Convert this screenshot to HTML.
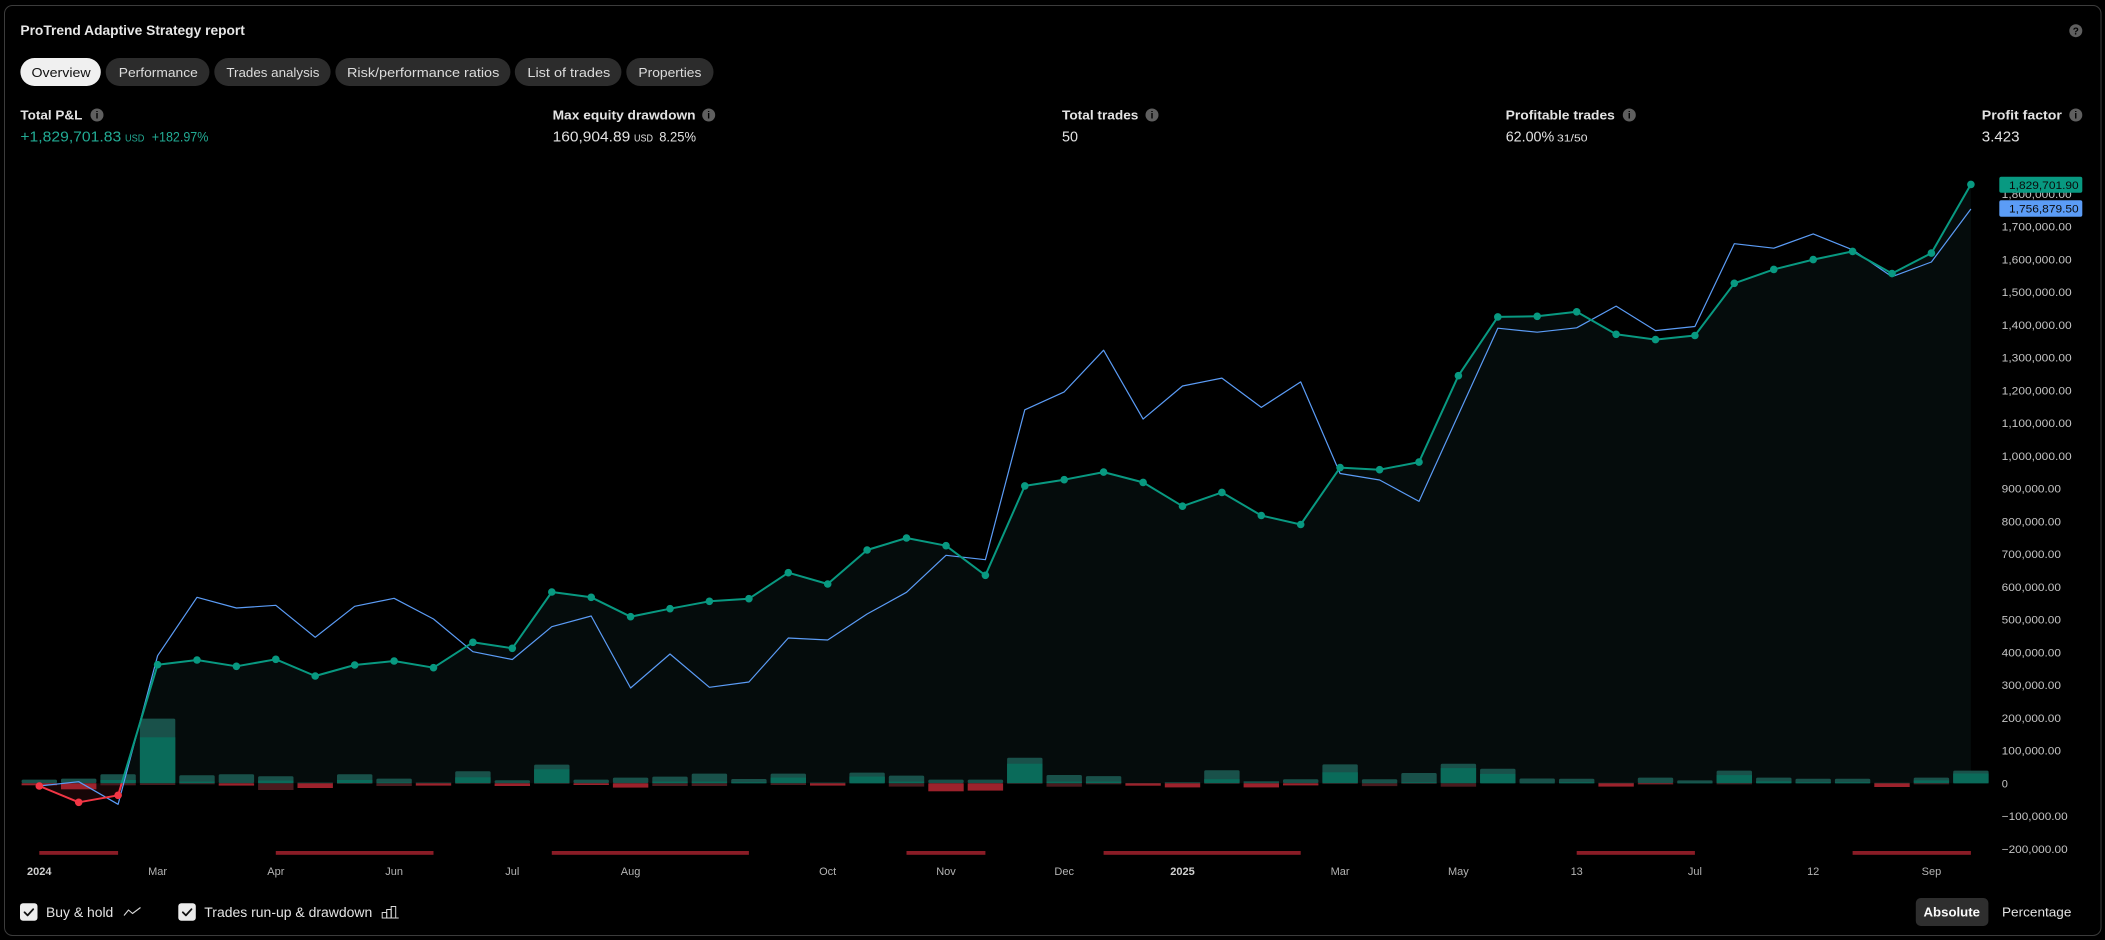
<!DOCTYPE html>
<html>
<head>
<meta charset="utf-8">
<style>
html,body{margin:0;padding:0;background:#000;}
body{width:2105px;height:940px;overflow:hidden;}
svg{display:block;font-family:"Liberation Sans",Arial,sans-serif;}
</style>
</head>
<body>
<svg width="2105" height="940" viewBox="0 0 2105 940" xmlns="http://www.w3.org/2000/svg">
<defs>
<clipPath id="above"><rect x="0" y="0" width="2105" height="783.3"/></clipPath>
<clipPath id="below"><rect x="0" y="783.3" width="2105" height="160"/></clipPath>
</defs>
<rect x="0" y="0" width="2105" height="940" fill="#000"/>
<rect x="4.5" y="5.5" width="2096.5" height="930" rx="8" fill="#000" stroke="#3c3c3c" stroke-width="1"/>

<!-- Title -->
<text x="20.4" y="35" font-size="13.5" font-weight="bold" fill="#e6e6e6" textLength="224.5" lengthAdjust="spacingAndGlyphs">ProTrend Adaptive Strategy report</text>
<!-- help icon -->
<circle cx="2075.8" cy="30.7" r="6.5" fill="#5f5f5f"/>
<text x="2075.8" y="34.3" font-size="10" font-weight="bold" fill="#000" text-anchor="middle">?</text>

<!-- Tabs -->
<rect x="20.4" y="58" width="80.4" height="28" rx="14" fill="#f0f0f0"/>
<rect x="105.7" y="58" width="103.7" height="28" rx="14" fill="#2c2c2c"/>
<rect x="214.3" y="58" width="116.3" height="28" rx="14" fill="#2c2c2c"/>
<rect x="335.4" y="58" width="175" height="28" rx="14" fill="#2c2c2c"/>
<rect x="514.8" y="58" width="106.6" height="28" rx="14" fill="#2c2c2c"/>
<rect x="626.3" y="58" width="87.2" height="28" rx="14" fill="#2c2c2c"/>
<g font-size="13" fill="#dcdcdc">
<text x="31.5" y="77" fill="#111" textLength="59.1" lengthAdjust="spacingAndGlyphs">Overview</text>
<text x="118.8" y="77" textLength="79" lengthAdjust="spacingAndGlyphs">Performance</text>
<text x="226.4" y="77" textLength="93" lengthAdjust="spacingAndGlyphs">Trades analysis</text>
<text x="347" y="77" textLength="152.3" lengthAdjust="spacingAndGlyphs">Risk/performance ratios</text>
<text x="527.4" y="77" textLength="82.9" lengthAdjust="spacingAndGlyphs">List of trades</text>
<text x="638.4" y="77" textLength="63" lengthAdjust="spacingAndGlyphs">Properties</text>
</g>

<!-- Stats labels -->
<g font-size="13" font-weight="bold" fill="#e2e2e2">
<text x="20.4" y="119.5" textLength="62" lengthAdjust="spacingAndGlyphs">Total P&amp;L</text>
<text x="552.6" y="119.5" textLength="143" lengthAdjust="spacingAndGlyphs">Max equity drawdown</text>
<text x="1062" y="119.5" textLength="76.4" lengthAdjust="spacingAndGlyphs">Total trades</text>
<text x="1505.7" y="119.5" textLength="109.2" lengthAdjust="spacingAndGlyphs">Profitable trades</text>
<text x="1981.8" y="119.5" textLength="80.1" lengthAdjust="spacingAndGlyphs">Profit factor</text>
</g>
<g fill="#5f5f5f">
<circle cx="97" cy="115" r="6.5"/>
<circle cx="708.7" cy="115" r="6.5"/>
<circle cx="1152" cy="115" r="6.5"/>
<circle cx="1629.3" cy="115" r="6.5"/>
<circle cx="2075.8" cy="115" r="6.5"/>
</g>
<g font-size="10" font-weight="bold" fill="#000" text-anchor="middle">
<text x="97" y="118.6">i</text>
<text x="708.7" y="118.6">i</text>
<text x="1152" y="118.6">i</text>
<text x="1629.3" y="118.6">i</text>
<text x="2075.8" y="118.6">i</text>
</g>

<!-- Stats values -->
<g fill="#22ab94">
<text x="20.4" y="141.7" font-size="14.5" textLength="100.8" lengthAdjust="spacingAndGlyphs">+1,829,701.83</text>
<text x="125" y="141.7" font-size="10" textLength="19.4" lengthAdjust="spacingAndGlyphs">USD</text>
<text x="151.7" y="141.7" font-size="13.5" textLength="56.7" lengthAdjust="spacingAndGlyphs">+182.97%</text>
</g>
<g fill="#e2e2e2">
<text x="552.6" y="141.7" font-size="14.5" textLength="77.6" lengthAdjust="spacingAndGlyphs">160,904.89</text>
<text x="634" y="141.7" font-size="10" textLength="19" lengthAdjust="spacingAndGlyphs">USD</text>
<text x="659.2" y="141.7" font-size="13.5" textLength="36.8" lengthAdjust="spacingAndGlyphs">8.25%</text>
<text x="1062" y="141.7" font-size="14.5" textLength="16" lengthAdjust="spacingAndGlyphs">50</text>
<text x="1505.7" y="141.7" font-size="14.5" textLength="48.5" lengthAdjust="spacingAndGlyphs">62.00%</text>
<text x="1557" y="141.7" font-size="10" textLength="30.5" lengthAdjust="spacingAndGlyphs">31/50</text>
<text x="1981.8" y="141.7" font-size="14.5" textLength="37.8" lengthAdjust="spacingAndGlyphs">3.423</text>
</g>

<!-- Equity fill -->
<polygon clip-path="url(#above)" fill="#050c0c" points="39.3,783.3 39.3,786 78.7,802.3 118.1,795.3 157.6,664.7 197,660 236.4,666.3 275.8,659.3 315.2,676 354.7,665 394.1,661 433.5,667.7 472.9,642.3 512.3,648.3 551.8,592 591.2,597.3 630.6,616.7 670,608.7 709.4,601.3 748.9,598.7 788.3,572.7 827.7,584 867.1,550 906.5,538 946,545.7 985.4,575.3 1024.8,485.9 1064.2,479.7 1103.6,472.1 1143.1,482.4 1182.5,506.2 1221.9,492.4 1261.3,515.5 1300.7,524.5 1340.1,467.6 1379.6,469.7 1419,462.1 1458.4,375.7 1497.8,316.9 1537.2,316.3 1576.7,311.8 1616.1,334.3 1655.5,339.6 1694.9,335.5 1734.3,283.3 1773.8,269.4 1813.2,259.6 1852.6,251.4 1892,273.5 1931.4,253.1 1970.9,184.4 1970.9,783.3"/>
<polygon clip-path="url(#below)" fill="#170607" points="39.3,783.3 39.3,786 78.7,802.3 118.1,795.3 157.6,664.7 157.6,783.3"/>

<!-- Bars -->
<g transform="translate(0,783.3)">
<g fill="#19514a">
<rect x="21.6" y="-3.7" width="35.4" height="3.7" rx="1.5"/>
<rect x="61.0" y="-4.7" width="35.4" height="4.7" rx="1.5"/>
<rect x="100.4" y="-9" width="35.4" height="9" rx="1.5"/>
<rect x="139.9" y="-64.7" width="35.4" height="64.7" rx="1.5"/>
<rect x="179.3" y="-8" width="35.4" height="8" rx="1.5"/>
<rect x="218.7" y="-9" width="35.4" height="9" rx="1.5"/>
<rect x="258.1" y="-7" width="35.4" height="7" rx="1.5"/>
<rect x="297.5" y="-0.7" width="35.4" height="0.7"/>
<rect x="337.0" y="-9" width="35.4" height="9" rx="1.5"/>
<rect x="376.4" y="-4.7" width="35.4" height="4.7" rx="1.5"/>
<rect x="415.8" y="-0.7" width="35.4" height="0.7"/>
<rect x="455.2" y="-12" width="35.4" height="12" rx="1.5"/>
<rect x="494.6" y="-3" width="35.4" height="3" rx="1.5"/>
<rect x="534.1" y="-18.7" width="35.4" height="18.7" rx="1.5"/>
<rect x="573.5" y="-3.7" width="35.4" height="3.7" rx="1.5"/>
<rect x="612.9" y="-5.7" width="35.4" height="5.7" rx="1.5"/>
<rect x="652.3" y="-6.7" width="35.4" height="6.7" rx="1.5"/>
<rect x="691.7" y="-9.7" width="35.4" height="9.7" rx="1.5"/>
<rect x="731.2" y="-4.3" width="35.4" height="4.3" rx="1.5"/>
<rect x="770.6" y="-9.7" width="35.4" height="9.7" rx="1.5"/>
<rect x="810.0" y="-0.7" width="35.4" height="0.7"/>
<rect x="849.4" y="-10.7" width="35.4" height="10.7" rx="1.5"/>
<rect x="888.8" y="-7.7" width="35.4" height="7.7" rx="1.5"/>
<rect x="928.3" y="-3.7" width="35.4" height="3.7" rx="1.5"/>
<rect x="967.7" y="-3.7" width="35.4" height="3.7" rx="1.5"/>
<rect x="1007.1" y="-25.5" width="35.4" height="25.5" rx="1.5"/>
<rect x="1046.5" y="-8.3" width="35.4" height="8.3" rx="1.5"/>
<rect x="1085.9" y="-7.2" width="35.4" height="7.2" rx="1.5"/>
<rect x="1125.4" y="-0.3" width="35.4" height="0.3"/>
<rect x="1164.8" y="-1" width="35.4" height="1"/>
<rect x="1204.2" y="-13.1" width="35.4" height="13.1" rx="1.5"/>
<rect x="1243.6" y="-2" width="35.4" height="2"/>
<rect x="1283.0" y="-4.1" width="35.4" height="4.1" rx="1.5"/>
<rect x="1322.4" y="-18.9" width="35.4" height="18.9" rx="1.5"/>
<rect x="1361.9" y="-4.1" width="35.4" height="4.1" rx="1.5"/>
<rect x="1401.3" y="-10.3" width="35.4" height="10.3" rx="1.5"/>
<rect x="1440.7" y="-19.6" width="35.4" height="19.6" rx="1.5"/>
<rect x="1480.1" y="-14.5" width="35.4" height="14.5" rx="1.5"/>
<rect x="1519.5" y="-4.8" width="35.4" height="4.8" rx="1.5"/>
<rect x="1559.0" y="-4.5" width="35.4" height="4.5" rx="1.5"/>
<rect x="1598.4" y="-0.5" width="35.4" height="0.5"/>
<rect x="1637.8" y="-5.7" width="35.4" height="5.7" rx="1.5"/>
<rect x="1677.2" y="-2.9" width="35.4" height="2.9" rx="1.2"/>
<rect x="1716.6" y="-12.7" width="35.4" height="12.7" rx="1.5"/>
<rect x="1756.1" y="-5.7" width="35.4" height="5.7" rx="1.5"/>
<rect x="1795.5" y="-4.5" width="35.4" height="4.5" rx="1.5"/>
<rect x="1834.9" y="-4.5" width="35.4" height="4.5" rx="1.5"/>
<rect x="1874.3" y="-0.5" width="35.4" height="0.5"/>
<rect x="1913.7" y="-5.7" width="35.4" height="5.7" rx="1.5"/>
<rect x="1953.2" y="-12.7" width="35.4" height="12.7" rx="1.5"/>
</g>
<g fill="#0a6b5a">
<rect x="100.4" y="-3.3" width="35.4" height="3.3"/>
<rect x="139.9" y="-46" width="35.4" height="46"/>
<rect x="179.3" y="-1.7" width="35.4" height="1.7"/>
<rect x="258.1" y="-2.7" width="35.4" height="2.7"/>
<rect x="337.0" y="-3.3" width="35.4" height="3.3"/>
<rect x="376.4" y="-0.7" width="35.4" height="0.7"/>
<rect x="455.2" y="-6" width="35.4" height="6"/>
<rect x="534.1" y="-14" width="35.4" height="14"/>
<rect x="652.3" y="-1.7" width="35.4" height="1.7"/>
<rect x="691.7" y="-1.7" width="35.4" height="1.7"/>
<rect x="731.2" y="-1" width="35.4" height="1"/>
<rect x="770.6" y="-5.7" width="35.4" height="5.7"/>
<rect x="849.4" y="-6.7" width="35.4" height="6.7"/>
<rect x="888.8" y="-1.7" width="35.4" height="1.7"/>
<rect x="1007.1" y="-19.6" width="35.4" height="19.6"/>
<rect x="1046.5" y="-1.7" width="35.4" height="1.7"/>
<rect x="1085.9" y="-1.7" width="35.4" height="1.7"/>
<rect x="1204.2" y="-4.1" width="35.4" height="4.1"/>
<rect x="1322.4" y="-11" width="35.4" height="11"/>
<rect x="1361.9" y="-0.5" width="35.4" height="0.5"/>
<rect x="1401.3" y="-1" width="35.4" height="1"/>
<rect x="1440.7" y="-15.2" width="35.4" height="15.2"/>
<rect x="1480.1" y="-9.4" width="35.4" height="9.4"/>
<rect x="1519.5" y="-0.5" width="35.4" height="0.5"/>
<rect x="1559.0" y="-1" width="35.4" height="1"/>
<rect x="1677.2" y="-0.5" width="35.4" height="0.5"/>
<rect x="1716.6" y="-8.2" width="35.4" height="8.2"/>
<rect x="1756.1" y="-2" width="35.4" height="2"/>
<rect x="1795.5" y="-1" width="35.4" height="1"/>
<rect x="1834.9" y="-1" width="35.4" height="1"/>
<rect x="1913.7" y="-2.9" width="35.4" height="2.9"/>
<rect x="1953.2" y="-9.8" width="35.4" height="9.8"/>
</g>
<g fill="#4a1a1e">
<rect x="100.4" y="0" width="35.4" height="2"/>
<rect x="139.9" y="0" width="35.4" height="1.7"/>
<rect x="179.3" y="0" width="35.4" height="1"/>
<rect x="258.1" y="0" width="35.4" height="6.7"/>
<rect x="337.0" y="0" width="35.4" height="0.5"/>
<rect x="376.4" y="0" width="35.4" height="2.7"/>
<rect x="455.2" y="0" width="35.4" height="0.5"/>
<rect x="534.1" y="0" width="35.4" height="0.5"/>
<rect x="652.3" y="0" width="35.4" height="2.7"/>
<rect x="691.7" y="0" width="35.4" height="2.7"/>
<rect x="770.6" y="0" width="35.4" height="1.7"/>
<rect x="888.8" y="0" width="35.4" height="3.3"/>
<rect x="1007.1" y="0" width="35.4" height="0.5"/>
<rect x="1046.5" y="0" width="35.4" height="3.4"/>
<rect x="1085.9" y="0" width="35.4" height="1"/>
<rect x="1204.2" y="0" width="35.4" height="0.5"/>
<rect x="1322.4" y="0" width="35.4" height="0.5"/>
<rect x="1361.9" y="0" width="35.4" height="2.8"/>
<rect x="1401.3" y="0" width="35.4" height="0.5"/>
<rect x="1440.7" y="0" width="35.4" height="3.4"/>
<rect x="1716.6" y="0" width="35.4" height="1"/>
<rect x="1913.7" y="0" width="35.4" height="1"/>
</g>
<g fill="#9d222c">
<rect x="21.6" y="0" width="35.4" height="2"/>
<rect x="61.0" y="0" width="35.4" height="6"/>
<rect x="218.7" y="0" width="35.4" height="2.3"/>
<rect x="297.5" y="0" width="35.4" height="4.7"/>
<rect x="415.8" y="0" width="35.4" height="2.3"/>
<rect x="494.6" y="0" width="35.4" height="2.7"/>
<rect x="573.5" y="0" width="35.4" height="1.7"/>
<rect x="612.9" y="0" width="35.4" height="4.3"/>
<rect x="810.0" y="0" width="35.4" height="2.3"/>
<rect x="928.3" y="0" width="35.4" height="8"/>
<rect x="967.7" y="0" width="35.4" height="7.3"/>
<rect x="1125.4" y="0" width="35.4" height="2.4"/>
<rect x="1164.8" y="0" width="35.4" height="4.1"/>
<rect x="1243.6" y="0" width="35.4" height="4.1"/>
<rect x="1283.0" y="0" width="35.4" height="2.1"/>
<rect x="1598.4" y="0" width="35.4" height="3.3"/>
<rect x="1637.8" y="0" width="35.4" height="1"/>
<rect x="1874.3" y="0" width="35.4" height="3.7"/>
</g>
</g>

<!-- Buy & hold -->
<polyline fill="none" stroke="#5b9cf6" stroke-width="1.2" stroke-linejoin="round" points="39.3,786 78.7,781.7 118.1,804.3 157.6,655.7 197,597.3 236.4,608 275.8,605.3 315.2,637.3 354.7,606.3 394.1,598.3 433.5,619 472.9,651.7 512.3,659.5 551.8,626.7 591.2,616 630.6,688 670,654 709.4,687.3 748.9,682 788.3,638 827.7,640 867.1,614 906.5,592.3 946,555.3 985.4,559.7 1024.8,409.8 1064.2,391.9 1103.6,350.2 1143.1,419.1 1182.5,386 1221.9,378.1 1261.3,407.4 1300.7,381.9 1340.1,473.5 1379.6,480 1419,501.4 1458.4,414.6 1497.8,328.2 1537.2,332.2 1576.7,327.8 1616.1,306.1 1655.5,330.6 1694.9,326.5 1734.3,243.7 1773.8,248.2 1813.2,233.9 1852.6,249.8 1892,276.7 1931.4,262 1970.9,209"/>

<!-- Equity line -->
<polyline clip-path="url(#above)" fill="none" stroke="#089981" stroke-width="2" stroke-linejoin="round" points="39.3,786 78.7,802.3 118.1,795.3 157.6,664.7 197,660 236.4,666.3 275.8,659.3 315.2,676 354.7,665 394.1,661 433.5,667.7 472.9,642.3 512.3,648.3 551.8,592 591.2,597.3 630.6,616.7 670,608.7 709.4,601.3 748.9,598.7 788.3,572.7 827.7,584 867.1,550 906.5,538 946,545.7 985.4,575.3 1024.8,485.9 1064.2,479.7 1103.6,472.1 1143.1,482.4 1182.5,506.2 1221.9,492.4 1261.3,515.5 1300.7,524.5 1340.1,467.6 1379.6,469.7 1419,462.1 1458.4,375.7 1497.8,316.9 1537.2,316.3 1576.7,311.8 1616.1,334.3 1655.5,339.6 1694.9,335.5 1734.3,283.3 1773.8,269.4 1813.2,259.6 1852.6,251.4 1892,273.5 1931.4,253.1 1970.9,184.4"/>
<polyline clip-path="url(#below)" fill="none" stroke="#f23645" stroke-width="2" stroke-linejoin="round" points="39.3,786 78.7,802.3 118.1,795.3 157.6,664.7"/>
<g fill="#f23645">
<circle cx="39.3" cy="786" r="3.8"/>
<circle cx="78.7" cy="802.3" r="3.8"/>
<circle cx="118.1" cy="795.3" r="3.8"/>
</g>
<g fill="#089981">
<circle cx="157.6" cy="664.7" r="3.8"/>
<circle cx="197" cy="660" r="3.8"/>
<circle cx="236.4" cy="666.3" r="3.8"/>
<circle cx="275.8" cy="659.3" r="3.8"/>
<circle cx="315.2" cy="676" r="3.8"/>
<circle cx="354.7" cy="665" r="3.8"/>
<circle cx="394.1" cy="661" r="3.8"/>
<circle cx="433.5" cy="667.7" r="3.8"/>
<circle cx="472.9" cy="642.3" r="3.8"/>
<circle cx="512.3" cy="648.3" r="3.8"/>
<circle cx="551.8" cy="592" r="3.8"/>
<circle cx="591.2" cy="597.3" r="3.8"/>
<circle cx="630.6" cy="616.7" r="3.8"/>
<circle cx="670" cy="608.7" r="3.8"/>
<circle cx="709.4" cy="601.3" r="3.8"/>
<circle cx="748.9" cy="598.7" r="3.8"/>
<circle cx="788.3" cy="572.7" r="3.8"/>
<circle cx="827.7" cy="584" r="3.8"/>
<circle cx="867.1" cy="550" r="3.8"/>
<circle cx="906.5" cy="538" r="3.8"/>
<circle cx="946" cy="545.7" r="3.8"/>
<circle cx="985.4" cy="575.3" r="3.8"/>
<circle cx="1024.8" cy="485.9" r="3.8"/>
<circle cx="1064.2" cy="479.7" r="3.8"/>
<circle cx="1103.6" cy="472.1" r="3.8"/>
<circle cx="1143.1" cy="482.4" r="3.8"/>
<circle cx="1182.5" cy="506.2" r="3.8"/>
<circle cx="1221.9" cy="492.4" r="3.8"/>
<circle cx="1261.3" cy="515.5" r="3.8"/>
<circle cx="1300.7" cy="524.5" r="3.8"/>
<circle cx="1340.1" cy="467.6" r="3.8"/>
<circle cx="1379.6" cy="469.7" r="3.8"/>
<circle cx="1419" cy="462.1" r="3.8"/>
<circle cx="1458.4" cy="375.7" r="3.8"/>
<circle cx="1497.8" cy="316.9" r="3.8"/>
<circle cx="1537.2" cy="316.3" r="3.8"/>
<circle cx="1576.7" cy="311.8" r="3.8"/>
<circle cx="1616.1" cy="334.3" r="3.8"/>
<circle cx="1655.5" cy="339.6" r="3.8"/>
<circle cx="1694.9" cy="335.5" r="3.8"/>
<circle cx="1734.3" cy="283.3" r="3.8"/>
<circle cx="1773.8" cy="269.4" r="3.8"/>
<circle cx="1813.2" cy="259.6" r="3.8"/>
<circle cx="1852.6" cy="251.4" r="3.8"/>
<circle cx="1892" cy="273.5" r="3.8"/>
<circle cx="1931.4" cy="253.1" r="3.8"/>
<circle cx="1970.9" cy="184.4" r="3.8"/>
</g>

<!-- Drawdown period bars -->
<g fill="#8a1c26">
<rect x="39.3" y="851" width="78.8" height="3.8"/>
<rect x="275.8" y="851" width="157.7" height="3.8"/>
<rect x="551.8" y="851" width="197.1" height="3.8"/>
<rect x="906.5" y="851" width="78.9" height="3.8"/>
<rect x="1103.6" y="851" width="197.1" height="3.8"/>
<rect x="1576.7" y="851" width="118.2" height="3.8"/>
<rect x="1852.6" y="851" width="118.3" height="3.8"/>
</g>

<!-- X axis labels -->
<g font-size="11" fill="#b4b4b4" text-anchor="middle">
<text x="39.3" y="875" font-weight="bold" fill="#cfcfcf">2024</text>
<text x="157.6" y="875">Mar</text>
<text x="275.8" y="875">Apr</text>
<text x="394.1" y="875">Jun</text>
<text x="512.3" y="875">Jul</text>
<text x="630.6" y="875">Aug</text>
<text x="827.7" y="875">Oct</text>
<text x="946" y="875">Nov</text>
<text x="1064.2" y="875">Dec</text>
<text x="1182.5" y="875" font-weight="bold" fill="#cfcfcf">2025</text>
<text x="1340.1" y="875">Mar</text>
<text x="1458.4" y="875">May</text>
<text x="1576.7" y="875">13</text>
<text x="1694.9" y="875">Jul</text>
<text x="1813.2" y="875">12</text>
<text x="1931.4" y="875">Sep</text>
</g>

<!-- Y axis labels -->
<g font-size="11" fill="#c4c4c4">
<text x="2001.7" y="197.8" textLength="70" lengthAdjust="spacingAndGlyphs">1,800,000.00</text>
<text x="2001.7" y="230.5" textLength="70" lengthAdjust="spacingAndGlyphs">1,700,000.00</text>
<text x="2001.7" y="263.3" textLength="70" lengthAdjust="spacingAndGlyphs">1,600,000.00</text>
<text x="2001.7" y="296" textLength="70" lengthAdjust="spacingAndGlyphs">1,500,000.00</text>
<text x="2001.7" y="328.8" textLength="70" lengthAdjust="spacingAndGlyphs">1,400,000.00</text>
<text x="2001.7" y="361.5" textLength="70" lengthAdjust="spacingAndGlyphs">1,300,000.00</text>
<text x="2001.7" y="394.3" textLength="70" lengthAdjust="spacingAndGlyphs">1,200,000.00</text>
<text x="2001.7" y="427" textLength="70" lengthAdjust="spacingAndGlyphs">1,100,000.00</text>
<text x="2001.7" y="459.8" textLength="70" lengthAdjust="spacingAndGlyphs">1,000,000.00</text>
<text x="2001.7" y="492.5" textLength="59.3" lengthAdjust="spacingAndGlyphs">900,000.00</text>
<text x="2001.7" y="525.3" textLength="59.3" lengthAdjust="spacingAndGlyphs">800,000.00</text>
<text x="2001.7" y="558" textLength="59.3" lengthAdjust="spacingAndGlyphs">700,000.00</text>
<text x="2001.7" y="590.8" textLength="59.3" lengthAdjust="spacingAndGlyphs">600,000.00</text>
<text x="2001.7" y="623.5" textLength="59.3" lengthAdjust="spacingAndGlyphs">500,000.00</text>
<text x="2001.7" y="656.3" textLength="59.3" lengthAdjust="spacingAndGlyphs">400,000.00</text>
<text x="2001.7" y="689" textLength="59.3" lengthAdjust="spacingAndGlyphs">300,000.00</text>
<text x="2001.7" y="721.8" textLength="59.3" lengthAdjust="spacingAndGlyphs">200,000.00</text>
<text x="2001.7" y="754.5" textLength="59.3" lengthAdjust="spacingAndGlyphs">100,000.00</text>
<text x="2001.7" y="787.3">0</text>
<text x="2001.7" y="820" textLength="66" lengthAdjust="spacingAndGlyphs">−100,000.00</text>
<text x="2001.7" y="852.8" textLength="66" lengthAdjust="spacingAndGlyphs">−200,000.00</text>
</g>

<!-- Value badges -->
<rect x="1999.3" y="176.7" width="83" height="16" rx="2" fill="#089981"/>
<text x="2009" y="188.8" font-size="11" fill="#0b0b0b" textLength="69.7" lengthAdjust="spacingAndGlyphs">1,829,701.90</text>
<rect x="1999.3" y="200.3" width="83" height="16.4" rx="2" fill="#5b9cf6"/>
<text x="2009" y="212.6" font-size="11" fill="#0b0b0b" textLength="69.7" lengthAdjust="spacingAndGlyphs">1,756,879.50</text>

<!-- Legend -->
<rect x="20" y="903.3" width="17.5" height="17.5" rx="3" fill="#ececec"/>
<path d="M24.5,912.3 L27.6,915.4 L33.2,909.2" fill="none" stroke="#111" stroke-width="1.8" stroke-linecap="round" stroke-linejoin="round"/>
<text x="46" y="916.8" font-size="13.5" fill="#e4e4e4" textLength="67.3" lengthAdjust="spacingAndGlyphs">Buy &amp; hold</text>
<polyline points="124,915.5 128.5,910 132.5,913.5 140.5,907.5" fill="none" stroke="#d8d8d8" stroke-width="1.1" stroke-linejoin="round"/>
<rect x="178.3" y="903.3" width="17.5" height="17.5" rx="3" fill="#ececec"/>
<path d="M182.8,912.3 L185.9,915.4 L191.5,909.2" fill="none" stroke="#111" stroke-width="1.8" stroke-linecap="round" stroke-linejoin="round"/>
<text x="204.3" y="916.8" font-size="13.5" fill="#e4e4e4" textLength="168" lengthAdjust="spacingAndGlyphs">Trades run-up &amp; drawdown</text>
<g fill="none" stroke="#d8d8d8" stroke-width="1">
<rect x="382.2" y="912.5" width="4.5" height="5.5"/>
<rect x="386.7" y="909.5" width="4.5" height="8.5"/>
<rect x="391.2" y="906.5" width="4.5" height="11.5"/>
<line x1="382" y1="918" x2="398.7" y2="918"/>
</g>

<rect x="1915.8" y="898" width="72.6" height="28" rx="5" fill="#2e2e2e"/>
<text x="1923.5" y="916.5" font-size="13" font-weight="bold" fill="#fafafa" textLength="56.5" lengthAdjust="spacingAndGlyphs">Absolute</text>
<text x="2002" y="916.5" font-size="13" fill="#e2e2e2" textLength="69.4" lengthAdjust="spacingAndGlyphs">Percentage</text>
</svg>
</body>
</html>
